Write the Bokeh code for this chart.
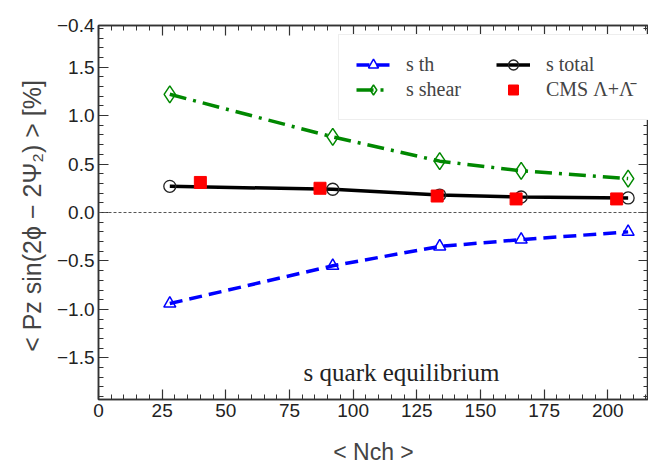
import numpy as np
from bokeh.plotting import figure
from bokeh.models import (LinearAxis, FixedTicker, Span, Label, Legend, LegendItem,
                          Range1d, ColumnDataSource, Whisker, CustomJSTickFormatter)
from bokeh.embed import file_html
from bokeh.resources import INLINE

# ---- data ----
x_th = [28, 92, 134, 166, 208]
y_th = [-0.94, -0.55, -0.35, -0.28, -0.20]
x_shear = [28, 92, 134, 166, 208]
y_shear = [1.22, 0.78, 0.53, 0.43, 0.35]
x_total = [28, 92, 134, 166, 208]
y_total = [0.27, 0.24, 0.18, 0.16, 0.15]
x_cms = [40, 87, 133, 164, 203.5]
y_cms = [0.31, 0.25, 0.17, 0.14, 0.14]
err_cms = [0.03, 0.03, 0.03, 0.03, 0.03]

x_ticks = [0, 25, 50, 75, 100, 125, 150, 175, 200]
y_ticks = [-1.5, -1.0, -0.5, 0.0, 0.5, 1.0, 1.5, 1.93]
y_tick_labels = {-1.5: "\u22121.5", -1.0: "\u22121.0", -0.5: "\u22120.5", 0.0: "0.0",
                 0.5: "0.5", 1.0: "1.0", 1.5: "1.5", 1.93: "\u22120.4"}
XMIN, XMAX = 0, 216
YMIN, YMAX = -1.93, 1.93

p = figure(frame_width=550, frame_height=374, output_backend="svg", toolbar_location=None,
           x_range=Range1d(XMIN, XMAX), y_range=Range1d(YMIN, YMAX),
           min_border_left=98, min_border_top=25, min_border_right=0, min_border_bottom=10,
           background_fill_color="white", border_fill_color="white")
p.xaxis.visible = False
p.yaxis.visible = False
p.xgrid.visible = False
p.ygrid.visible = False
p.outline_line_color = "#333333"
p.outline_line_width = 1.5

x_minor = [v for v in np.arange(0, 216, 5).tolist() if v not in x_ticks]
y_minor = [round(v, 2) for v in np.arange(-1.9, 1.95, 0.1).tolist()]

blank = CustomJSTickFormatter(code="return '';")

def style_axis(ax, labels):
    ax.major_tick_in = 10
    ax.major_tick_out = 0
    ax.minor_tick_in = 5
    ax.minor_tick_out = 0
    ax.axis_line_color = "#333333"
    ax.axis_line_width = 1.5
    ax.major_tick_line_color = "#333333"
    ax.minor_tick_line_color = "#333333"
    ax.major_tick_line_width = 1.2
    ax.minor_tick_line_width = 1
    if labels:
        ax.major_label_text_font = "Liberation Sans"
        ax.major_label_text_font_size = "19px"
        ax.major_label_text_color = "#222222"
        ax.major_label_standoff = 4
    else:
        ax.formatter = blank
        ax.major_label_standoff = 0

xb = LinearAxis(ticker=FixedTicker(ticks=x_ticks, minor_ticks=x_minor))
style_axis(xb, True)
xb.axis_label = "< Nch >"
xb.axis_label_text_font = "Liberation Sans"
xb.axis_label_text_font_size = "23px"
xb.axis_label_text_font_style = "normal"
xb.axis_label_standoff = 19
p.add_layout(xb, "below")

xt = LinearAxis(ticker=FixedTicker(ticks=x_ticks, minor_ticks=x_minor))
style_axis(xt, False)
p.add_layout(xt, "above")

yl = LinearAxis(ticker=FixedTicker(ticks=y_ticks, minor_ticks=y_minor))
style_axis(yl, True)
yl.major_label_overrides = y_tick_labels
yl.axis_label = "< Pz sin(2\u03d5 \u2212 2\u03a8\u2082) >  [%]"
yl.axis_label_text_font = "Liberation Sans"
yl.axis_label_text_font_size = "25px"
yl.axis_label_text_font_style = "normal"
yl.axis_label_standoff = 8
p.add_layout(yl, "left")

yr = LinearAxis(ticker=FixedTicker(ticks=y_ticks, minor_ticks=y_minor))
style_axis(yr, False)
p.add_layout(yr, "right")

p.add_layout(Span(location=0, dimension="width", line_color="#555555",
                  line_dash="3 2", line_width=1.2))

# series
r_th_l = p.line(x_th, y_th, line_color="blue", line_width=3.5, line_dash="13 7")
r_th_m = p.scatter(x_th, y_th, marker="triangle", size=12, fill_color="white",
                   fill_alpha=0, line_color="blue", line_width=1.5)
r_sh_l = p.line(x_shear, y_shear, line_color="#008800", line_width=3.5, line_dash="17 7 3 7")
r_sh_m = p.scatter(x_shear, y_shear, marker="diamond", size=17, fill_alpha=0,
                   line_color="#008800", line_width=1.5)
r_to_l = p.line(x_total, y_total, line_color="black", line_width=3.5)
r_to_m = p.scatter(x_total, y_total, marker="circle", size=12, fill_alpha=0,
                   line_color="#222222", line_width=1.3)
src = ColumnDataSource(dict(x=x_cms, y=y_cms,
                            lo=[a - b for a, b in zip(y_cms, err_cms)],
                            hi=[a + b for a, b in zip(y_cms, err_cms)]))
p.add_layout(Whisker(source=src, base="x", upper="hi", lower="lo", line_color="red",
                     upper_head=None, lower_head=None))
r_cms = p.scatter("x", "y", source=src, marker="square", size=12, fill_color="red",
                  line_color="red")

p.add_layout(Label(x=119, y=-1.65, text="s quark equilibrium", text_align="center",
                   text_baseline="middle", text_font="Liberation Serif",
                   text_font_size="25px", text_color="#222222"))

NB = "\u00a0" * 7
legend = Legend(items=[
    LegendItem(label="s th", renderers=[r_th_l, r_th_m]),
    LegendItem(label="s shear" + NB, renderers=[r_sh_l, r_sh_m]),
    LegendItem(label="s total", renderers=[r_to_l, r_to_m]),
    LegendItem(label="CMS \u039b+\u039b\u0304", renderers=[r_cms]),
], location=(240, 279), nrows=2, orientation="vertical",
    label_text_font="Liberation Serif", label_text_font_size="20px",
    glyph_width=34, glyph_height=25, label_standoff=16, spacing=0,
    padding=17, margin=0, border_line_color="#dddddd", border_line_width=1.5,
    background_fill_alpha=1)
p.add_layout(legend, "center")

open("out.html", "w").write(file_html(p, INLINE))
